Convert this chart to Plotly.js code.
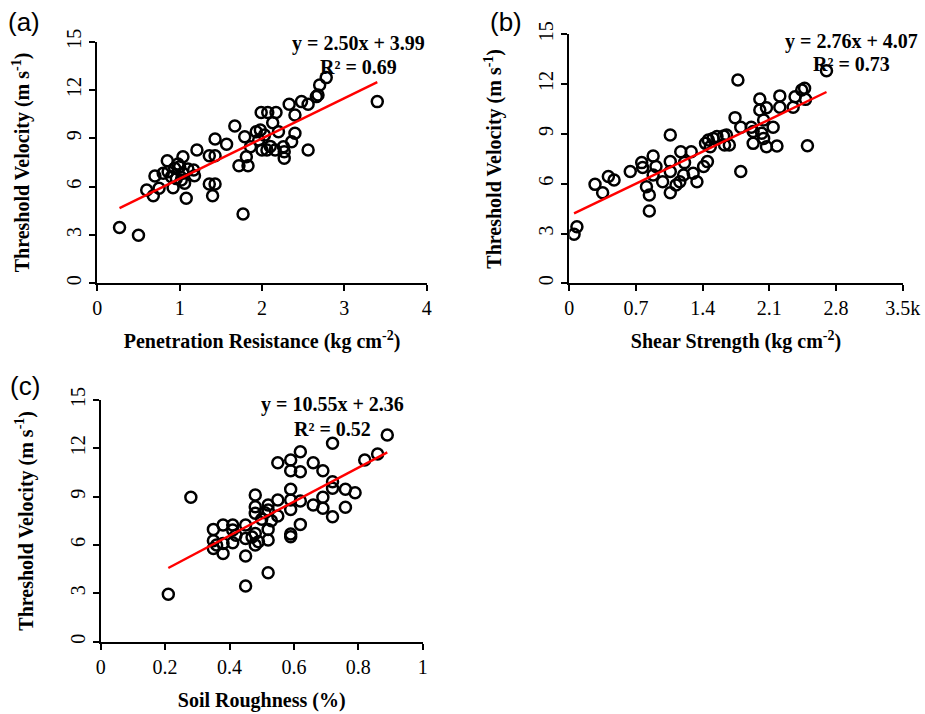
<!DOCTYPE html>
<html><head><meta charset="utf-8">
<script src="https://cdn.plot.ly/plotly-3.0.1.min.js"></script>
<style>html,body{margin:0;padding:0;background:#fff}#chart{width:925px;height:714px}</style>
</head><body><div id="chart"></div>
<script>
// Panel (a): Penetration Resistance vs Threshold Velocity
var penX = [0.27,0.50,0.60,0.68,0.70,0.75,0.80,0.85,0.86,0.90,0.92,0.94,1.00,1.04,1.04,1.06,1.08,1.02,1.17,1.18,1.21,1.36,1.43,1.43,1.36,1.43,1.40,1.57,1.67,1.72,1.81,1.83,1.79,1.77,1.93,1.86,1.98,1.96,2.00,2.06,2.16,1.99,2.07,2.17,2.13,2.20,2.26,2.27,2.27,2.36,2.40,2.40,2.33,2.48,2.56,2.56,2.66,2.68,2.70,2.78,3.40,0.96,1.10,0.98,2.03,2.10];
var penY = [3.46,2.98,5.79,5.44,6.66,5.90,6.83,7.61,6.93,6.62,5.94,7.14,7.24,7.86,6.83,6.21,5.28,6.41,7.03,6.68,8.28,7.92,7.92,8.96,6.17,6.17,5.44,8.63,9.77,7.30,7.86,7.30,9.10,4.30,9.41,8.48,9.52,8.90,8.28,8.28,8.28,10.61,10.61,10.61,9.97,9.41,8.48,7.76,8.17,8.79,9.31,10.45,11.11,11.28,11.11,8.28,11.59,11.69,12.31,12.77,11.28,6.50,7.10,7.40,9.20,8.50];
// Panel (b): Shear Strength vs Threshold Velocity
var shearX = [0.05,0.08,0.27,0.35,0.41,0.47,0.64,0.76,0.77,0.88,0.91,0.81,0.84,0.84,0.88,0.98,1.06,1.06,1.06,1.06,1.12,1.16,1.17,1.20,1.21,1.28,1.30,1.34,1.41,1.45,1.43,1.46,1.51,1.48,1.55,1.62,1.65,1.63,1.68,1.74,1.77,1.80,1.80,1.91,1.93,1.93,2.00,2.00,2.04,2.02,2.04,2.07,2.07,2.14,2.18,2.21,2.21,2.35,2.37,2.44,2.47,2.48,2.50,2.70];
var shearY = [2.95,3.41,5.96,5.46,6.43,6.22,6.73,7.27,6.97,7.67,7.03,5.82,5.32,4.36,6.53,6.12,7.33,6.73,5.46,8.94,5.92,6.12,7.93,6.53,7.27,7.93,6.63,6.12,7.03,7.33,8.43,8.63,8.73,8.23,8.84,8.88,8.94,8.33,8.33,9.98,12.25,9.40,6.73,9.40,9.14,8.43,11.10,10.44,9.84,9.04,8.73,8.23,10.58,9.40,8.27,11.29,10.60,10.60,11.24,11.65,11.75,11.08,8.29,12.81];
// Panel (c): Soil Roughness vs Threshold Velocity
var roughX = [0.21,0.28,0.35,0.35,0.35,0.38,0.38,0.38,0.41,0.41,0.41,0.42,0.45,0.45,0.45,0.45,0.48,0.48,0.48,0.48,0.48,0.49,0.52,0.52,0.52,0.52,0.52,0.55,0.55,0.55,0.59,0.59,0.59,0.59,0.59,0.59,0.59,0.62,0.62,0.62,0.62,0.66,0.66,0.69,0.69,0.69,0.72,0.72,0.72,0.72,0.76,0.76,0.79,0.82,0.86,0.89,0.50,0.51,0.36,0.47,0.53];
var roughY = [2.94,8.96,6.97,6.27,5.79,7.24,5.48,6.10,7.24,6.93,6.14,6.60,7.24,6.41,5.32,3.46,9.10,8.38,7.97,6.72,6.00,6.20,8.48,8.17,6.97,6.31,4.28,8.79,7.80,11.11,11.28,10.61,9.46,8.79,8.21,6.68,6.52,11.79,10.55,8.73,7.28,11.11,8.48,10.61,8.96,8.28,12.31,9.93,9.52,7.76,9.46,8.34,9.25,11.28,11.65,12.83,7.60,8.00,6.00,6.50,7.50];
// Fitted regression equations printed on the chart
var fitSlope = [2.50, 2.76, 10.55];
var fitIntercept = [3.99, 4.07, 2.36];
var eqText = ['y = 2.50x + 3.99', 'y = 2.76x + 4.07', 'y = 10.55x + 2.36'];
var r2Text = ['R² = 0.69', 'R² = 0.73', 'R² = 0.52'];
var panelLabels = ['(a)', '(b)', '(c)'];
var xTitles = ['Penetration Resistance (kg cm<sup>-2</sup>)', 'Shear Strength (kg cm<sup>-2</sup>)', 'Soil Roughness (%)'];
var yTitle = 'Threshold Velocity (m s<sup>-1</sup>)';
var yTickVals = [0,3,6,9,12,15];
var xTickValsA = [0,1,2,3,4];
var xTickValsB = [0,0.7,1.4,2.1,2.8,3.5];
var xTickTextB = ['0','0.7','1.4','2.1','2.8','3.5k'];
var xTickValsC = [0,0.2,0.4,0.6,0.8,1];
var xTickTextC = ['0','0.2','0.4','0.6','0.8','1'];

var W = 925, H = 714;
function px(x){return x/W;}
function py(y){return 1 - y/H;}

var series = [[penX,penY],[shearX,shearY],[roughX,roughY]];
var traces = [];
series.forEach(function(s,i){
  var ax = i===0 ? '' : String(i+1);
  traces.push({type:'scatter',mode:'markers',x:s[0],y:s[1],xaxis:'x'+ax,yaxis:'y'+ax,
    marker:{symbol:'circle-open',size:11,color:'#000',line:{width:2.5,color:'#000'}},hoverinfo:'x+y',showlegend:false});
  var mn = Math.min.apply(null,s[0]), mx = Math.max.apply(null,s[0]);
  traces.push({type:'scatter',mode:'lines',x:[mn,mx],y:[fitSlope[i]*mn+fitIntercept[i],fitSlope[i]*mx+fitIntercept[i]],
    xaxis:'x'+ax,yaxis:'y'+ax,line:{color:'#ff0000',width:2.4},showlegend:false,hoverinfo:'skip'});
});

var tickFont = {family:'Liberation Serif, Times New Roman, serif',size:20,color:'#000'};
var titleFont = {family:'Liberation Serif, Times New Roman, serif',size:20,color:'#000',weight:'bold'};
function xa(domain, range, tv, tt, title){
  var o = {domain:domain,range:range,tickmode:'array',tickvals:tv,showgrid:false,zeroline:false,showline:true,
    linecolor:'#000',linewidth:2,ticks:'outside',ticklen:6,tickwidth:2,tickcolor:'#000',tickfont:tickFont,
    title:{text:title,font:titleFont,standoff:16},automargin:false,fixedrange:true};
  if(tt) o.ticktext = tt;
  return o;
}
function ya(domain, anchor){
  return {domain:domain,range:[0,15],tickmode:'array',tickvals:yTickVals,showgrid:false,zeroline:false,showline:true,
    linecolor:'#000',linewidth:2,ticks:'outside',ticklen:6,tickwidth:2,tickcolor:'#000',tickfont:tickFont,tickangle:-90,
    title:{text:yTitle,font:titleFont,standoff:28},automargin:false,anchor:anchor,fixedrange:true};
}

var annFontEq = {family:'Liberation Serif, Times New Roman, serif',size:20,color:'#000',weight:'bold'};
var labelFont = {family:'Liberation Sans, Arial, sans-serif',size:26,color:'#000'};
var annotations = [
  {text:panelLabels[0],x:px(6),y:py(22),xanchor:'left',yanchor:'middle'},
  {text:panelLabels[1],x:px(488),y:py(22),xanchor:'left',yanchor:'middle'},
  {text:panelLabels[2],x:px(8),y:py(386),xanchor:'left',yanchor:'middle'}
].map(function(a){a.xref='paper';a.yref='paper';a.showarrow=false;a.font=labelFont;return a;});
var eqPos = [[358,43,358,67],[851,41,851,64],[332,404,332,429]];
eqPos.forEach(function(p,i){
  annotations.push({text:eqText[i],x:px(p[0]),y:py(p[1]),xref:'paper',yref:'paper',xanchor:'center',yanchor:'middle',showarrow:false,font:annFontEq});
  annotations.push({text:r2Text[i],x:px(p[2]),y:py(p[3]),xref:'paper',yref:'paper',xanchor:'center',yanchor:'middle',showarrow:false,font:annFontEq});
});

var layout = {
  width:W,height:H,margin:{l:0,r:0,t:0,b:0},paper_bgcolor:'#fff',plot_bgcolor:'rgba(0,0,0,0)',showlegend:false,
  xaxis: xa([px(97.3),px(426.7)],[0,4],xTickValsA,null,xTitles[0]),
  yaxis: ya([py(283.3),py(41.7)],'x'),
  xaxis2: xa([px(569.3),px(902.7)],[0,3.5],xTickValsB,xTickTextB,xTitles[1]),
  yaxis2: ya([py(283.3),py(34.3)],'x2'),
  xaxis3: xa([px(100.7),px(422.7)],[0,1],xTickValsC,xTickTextC,xTitles[2]),
  yaxis3: ya([py(641.7),py(400)],'x3'),
  annotations:annotations
};
layout.xaxis.anchor='y'; layout.xaxis2.anchor='y2'; layout.xaxis3.anchor='y3';
Plotly.newPlot('chart',traces,layout,{displayModeBar:false,staticPlot:true});
</script></body></html>
